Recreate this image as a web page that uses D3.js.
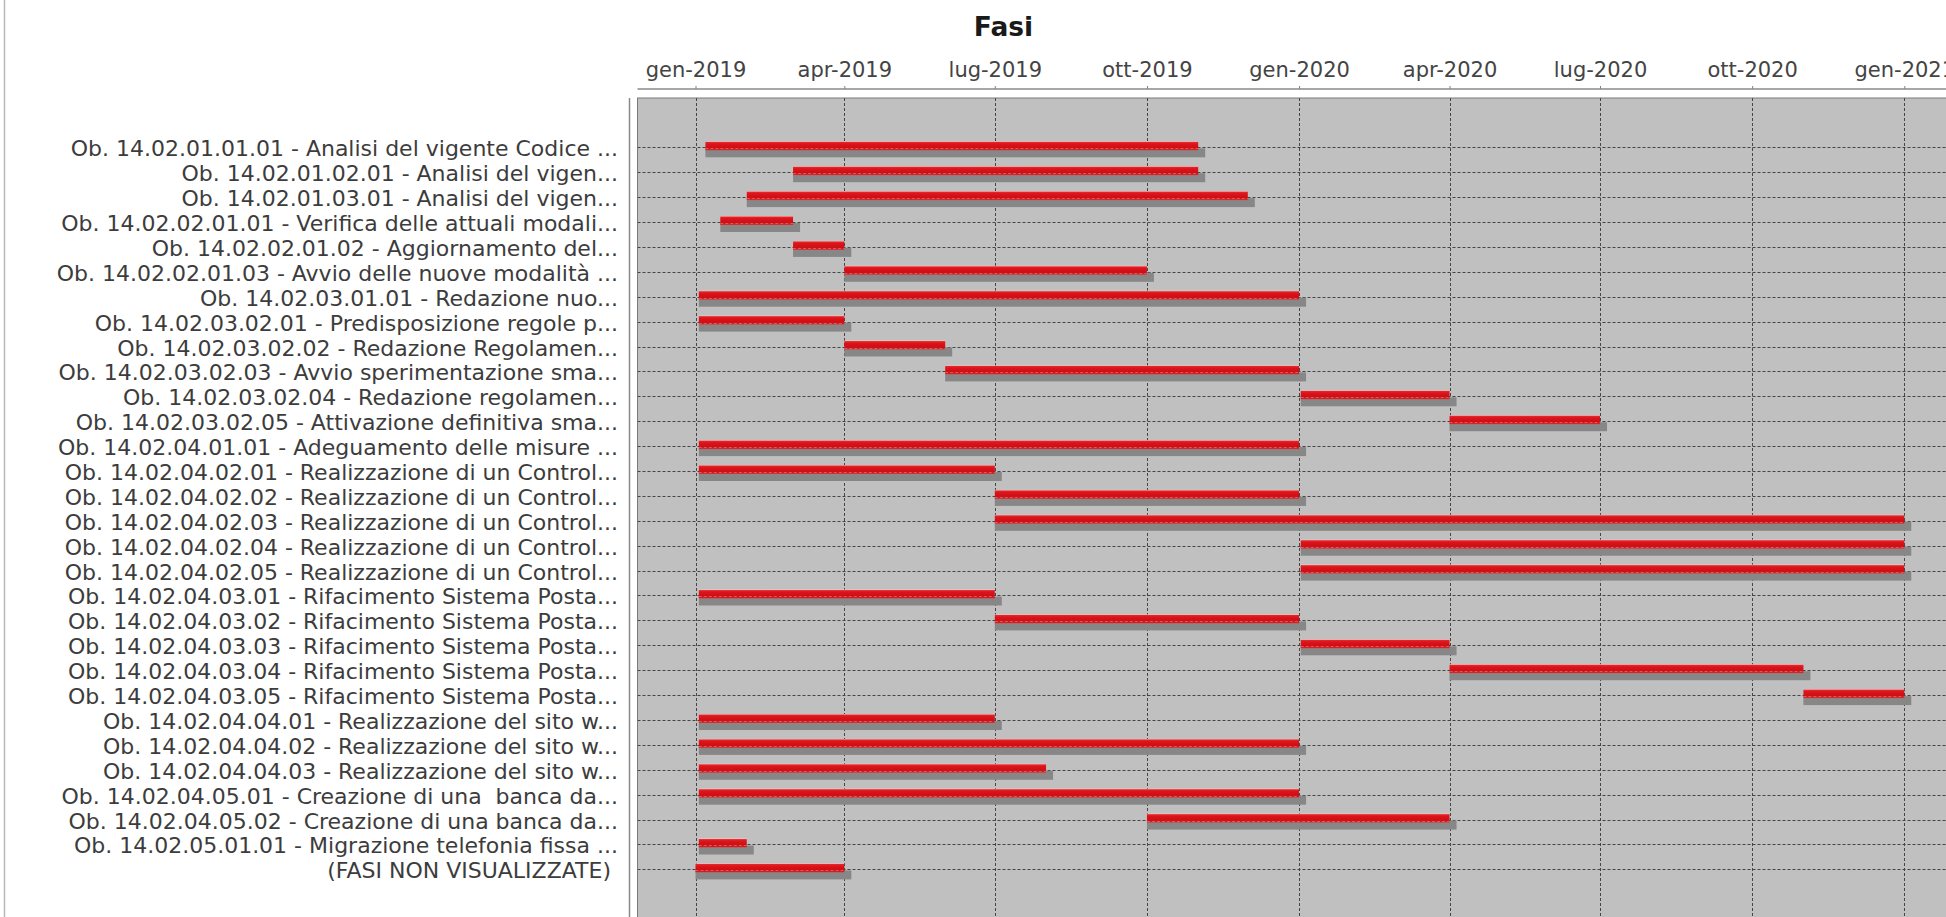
<!DOCTYPE html>
<html>
<head>
<meta charset="utf-8">
<script src="https://cdn.jsdelivr.net/npm/d3@7"></script>
<style>
  html, body { margin: 0; padding: 0; background: #ffffff; }
  svg { display: block; }
  text { font-family: "DejaVu Sans", sans-serif; white-space: pre; }
</style>
</head>
<body>
<svg id="chart" width="1946" height="917"></svg>
<script>
// ---------------- DATA ----------------
const chartTitle = "Fasi";

const categories = [
  "Ob. 14.02.01.01.01 - Analisi del vigente Codice ...",
  "Ob. 14.02.01.02.01 - Analisi del vigen...",
  "Ob. 14.02.01.03.01 - Analisi del vigen...",
  "Ob. 14.02.02.01.01 - Verifica delle attuali modali...",
  "Ob. 14.02.02.01.02 - Aggiornamento del...",
  "Ob. 14.02.02.01.03 - Avvio delle nuove modalità ...",
  "Ob. 14.02.03.01.01 - Redazione nuo...",
  "Ob. 14.02.03.02.01 - Predisposizione regole p...",
  "Ob. 14.02.03.02.02 - Redazione Regolamen...",
  "Ob. 14.02.03.02.03 - Avvio sperimentazione sma...",
  "Ob. 14.02.03.02.04 - Redazione regolamen...",
  "Ob. 14.02.03.02.05 - Attivazione definitiva sma...",
  "Ob. 14.02.04.01.01 - Adeguamento delle misure ...",
  "Ob. 14.02.04.02.01 - Realizzazione di un Control...",
  "Ob. 14.02.04.02.02 - Realizzazione di un Control...",
  "Ob. 14.02.04.02.03 - Realizzazione di un Control...",
  "Ob. 14.02.04.02.04 - Realizzazione di un Control...",
  "Ob. 14.02.04.02.05 - Realizzazione di un Control...",
  "Ob. 14.02.04.03.01 - Rifacimento Sistema Posta...",
  "Ob. 14.02.04.03.02 - Rifacimento Sistema Posta...",
  "Ob. 14.02.04.03.03 - Rifacimento Sistema Posta...",
  "Ob. 14.02.04.03.04 - Rifacimento Sistema Posta...",
  "Ob. 14.02.04.03.05 - Rifacimento Sistema Posta...",
  "Ob. 14.02.04.04.01 - Realizzazione del sito w...",
  "Ob. 14.02.04.04.02 - Realizzazione del sito w...",
  "Ob. 14.02.04.04.03 - Realizzazione del sito w...",
  "Ob. 14.02.04.05.01 - Creazione di una  banca da...",
  "Ob. 14.02.04.05.02 - Creazione di una banca da...",
  "Ob. 14.02.05.01.01 - Migrazione telefonia fissa ...",
  "(FASI NON VISUALIZZATE) "
];

const startDates = [
  "2019-01-07", "2019-03-01", "2019-02-01", "2019-01-16", "2019-03-01",
  "2019-04-01", "2019-01-03", "2019-01-03", "2019-04-01", "2019-06-01",
  "2020-01-02", "2020-04-01", "2019-01-03", "2019-01-03", "2019-07-01",
  "2019-07-01", "2020-01-02", "2020-01-02", "2019-01-03", "2019-07-01",
  "2020-01-02", "2020-04-01", "2020-11-01", "2019-01-03", "2019-01-03",
  "2019-01-03", "2019-01-03", "2019-10-01", "2019-01-03", "2019-01-01"
];

const endDates = [
  "2019-11-01", "2019-11-01", "2019-12-01", "2019-03-01", "2019-04-01",
  "2019-10-01", "2020-01-01", "2019-04-01", "2019-06-01", "2020-01-01",
  "2020-04-01", "2020-07-01", "2020-01-01", "2019-07-01", "2020-01-01",
  "2021-01-01", "2021-01-01", "2021-01-01", "2019-07-01", "2020-01-01",
  "2020-04-01", "2020-11-01", "2021-01-01", "2019-07-01", "2020-01-01",
  "2019-08-01", "2020-01-01", "2020-04-01", "2019-02-01", "2019-04-01"
];

const monthNames = ["gen","feb","mar","apr","mag","giu","lug","ago","set","ott","nov","dic"];

// ---------------- LAYOUT ----------------
const W = 1946, H = 917;
const plot = { left: 637.5, top: 98, right: 1960, bottom: 918.2 };

const svg = d3.select("#chart");

const parse = d3.utcParse("%Y-%m-%d");
const tasks = categories.map((c, i) => ({
  name: c, start: parse(startDates[i]), end: parse(endDates[i])
}));

const x = d3.scaleUtc()
  .domain([parse("2019-01-01"), parse("2021-01-01")])
  .range([695.5, 1904.3]);

const y = d3.scalePoint()
  .domain(categories)
  .range([98.5, plot.bottom])
  .padding(1.96);

const fmt = d => monthNames[d.getUTCMonth()] + "-" + d.getUTCFullYear();
const tickVals = d3.utcMonth.every(3).range(x.invert(plot.left), x.invert(W + 10));

// page frame (left edge)
svg.append("line")
  .attr("x1", 4.5).attr("x2", 4.5).attr("y1", 0).attr("y2", H)
  .attr("stroke", "#b8b8b8").attr("stroke-width", 1.5);

// title
svg.append("text")
  .attr("x", 1003.5).attr("y", 36)
  .attr("text-anchor", "middle")
  .attr("font-size", 26.5).attr("font-weight", "bold")
  .attr("fill", "#1a1a1a")
  .text(chartTitle);

// gradient for bars
const defs = svg.append("defs");
const grad = defs.append("linearGradient").attr("id", "barGrad")
  .attr("x1", 0).attr("y1", 0).attr("x2", 0).attr("y2", 1);
[[0, "#f3c8c8"], [0.12, "#e4262b"], [0.3, "#dc141a"], [0.7, "#cc1016"], [0.88, "#cf181d"], [1, "#d84044"]]
  .forEach(([o, c]) => grad.append("stop").attr("offset", o).attr("stop-color", c));

defs.append("clipPath").attr("id", "plotClip").append("rect")
  .attr("x", plot.left).attr("y", plot.top)
  .attr("width", plot.right - plot.left).attr("height", plot.bottom - plot.top);

// plot background
svg.append("rect")
  .attr("x", plot.left).attr("y", plot.top)
  .attr("width", plot.right - plot.left).attr("height", plot.bottom - plot.top)
  .attr("fill", "#c0c0c0").attr("stroke", "#7a7a7a").attr("stroke-width", 1);

const g = svg.append("g").attr("clip-path", "url(#plotClip)");

// vertical gridlines
g.selectAll("line.vgrid").data(tickVals).join("line")
  .attr("class", "vgrid")
  .attr("x1", d => Math.round(x(d)) + 0.5).attr("x2", d => Math.round(x(d)) + 0.5)
  .attr("y1", plot.top).attr("y2", plot.bottom)
  .attr("stroke", "#454545").attr("stroke-width", 1).attr("stroke-dasharray", "3,2");

// horizontal gridlines (category)
g.selectAll("line.hgrid").data(categories).join("line")
  .attr("class", "hgrid")
  .attr("x1", plot.left).attr("x2", plot.right)
  .attr("y1", d => Math.round(y(d)) + 0.5).attr("y2", d => Math.round(y(d)) + 0.5)
  .attr("stroke", "#454545").attr("stroke-width", 1).attr("stroke-dasharray", "3,2");

const barH = 9, barOff = -6, shDX = 7, shDY = 7;

// shadows
g.selectAll("rect.shadow").data(tasks).join("rect")
  .attr("class", "shadow")
  .attr("x", d => x(d.start))
  .attr("y", d => y(d.name) + barOff + shDY)
  .attr("width", d => x(d.end) - x(d.start) + shDX)
  .attr("height", barH)
  .attr("fill", "#878787");

// bars
g.selectAll("rect.bar").data(tasks).join("rect")
  .attr("class", "bar")
  .attr("x", d => x(d.start))
  .attr("y", d => y(d.name) + barOff)
  .attr("width", d => x(d.end) - x(d.start))
  .attr("height", barH)
  .attr("fill", "url(#barGrad)");

// faint dashed gridline showing through bars
g.selectAll("line.bargrid").data(tasks).join("line")
  .attr("class", "bargrid")
  .attr("x1", d => x(d.start)).attr("x2", d => x(d.end))
  .attr("y1", d => Math.round(y(d.name)) + 1.5).attr("y2", d => Math.round(y(d.name)) + 1.5)
  .attr("stroke", "#ee8a8a").attr("stroke-opacity", 0.55)
  .attr("stroke-width", 1).attr("stroke-dasharray", "3,2");

// category axis line (left, offset)
svg.append("line")
  .attr("x1", 629.5).attr("x2", 629.5).attr("y1", plot.top).attr("y2", plot.bottom)
  .attr("stroke", "#8a8a8a").attr("stroke-width", 1.5);

// category labels
svg.append("g").selectAll("text").data(categories).join("text")
  .attr("x", 618)
  .attr("y", d => y(d) + 9)
  .attr("text-anchor", "end")
  .attr("font-size", 22)
  .attr("fill", "#3c3c3c")
  .text(d => d);

// top date axis
const axisY = 89;
const axis = d3.axisTop(x).tickValues(tickVals).tickFormat(fmt).tickSize(3).tickPadding(9.5);
const ag = svg.append("g").attr("transform", `translate(0,${axisY})`).call(axis);
ag.select(".domain").remove();
ag.selectAll(".tick line").attr("stroke", "#808080").attr("stroke-width", 1);
ag.selectAll(".tick text")
  .attr("font-family", "DejaVu Sans, sans-serif")
  .attr("font-size", 21).attr("fill", "#444");
svg.append("line")
  .attr("x1", plot.left).attr("x2", W + 10).attr("y1", axisY).attr("y2", axisY)
  .attr("stroke", "#8a8a8a").attr("stroke-width", 1.5);
</script>
</body>
</html>
